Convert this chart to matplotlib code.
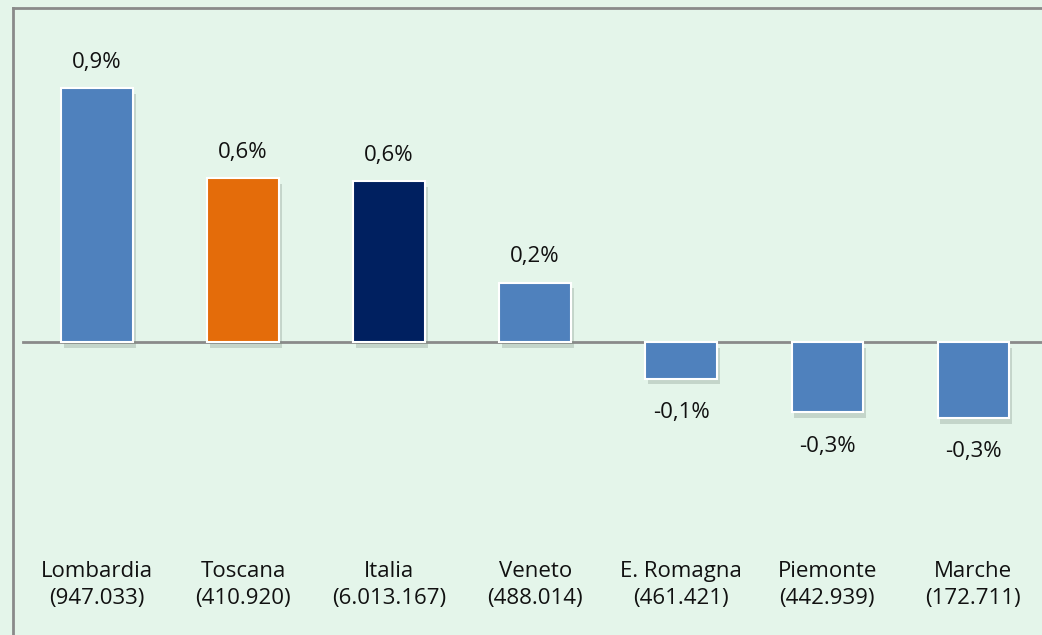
import matplotlib
matplotlib.use('Agg')
import matplotlib.pyplot as plt
import matplotlib.patheffects as pe

# Data
regions = ['Lombardia', 'Toscana', 'Italia', 'Veneto', 'E. Romagna', 'Piemonte', 'Marche']
population = ['947.033', '410.920', '6.013.167', '488.014', '461.421', '442.939', '172.711']
values = [0.90, 0.58, 0.57, 0.21, -0.13, -0.25, -0.27]
labels = ['0,9%', '0,6%', '0,6%', '0,2%', '-0,1%', '-0,3%', '-0,3%']
colors = ['#4f81bd', '#e46c0a', '#002060', '#4f81bd', '#4f81bd', '#4f81bd', '#4f81bd']

matplotlib.rc('font', family=['Open Sans', 'DejaVu Sans'])
bg = '#e4f5ea'

fig = plt.figure(figsize=(10.42, 6.35), dpi=100, facecolor=bg)
ax = fig.add_axes([13 / 1042, 0, 1 - 13 / 1042, 1 - 8 / 635])
ax.set_facecolor(bg)

x = list(range(len(regions)))
bars = ax.bar(x, values, width=0.49, color=colors, edgecolor='white',
              linewidth=1.5, zorder=3)
for b in bars:
    b.set_path_effects([pe.SimplePatchShadow(offset=(2, -4), shadow_rgbFace='#7a8c80', alpha=0.3),
                        pe.Normal()])

# Zero line
ax.axhline(0, xmin=10 / 1029, xmax=1, color='#8a8a8a', linewidth=2, zorder=2)

# Value labels
for xi, v, lab in zip(x, values, labels):
    if v >= 0:
        ax.text(xi, v + 0.092, lab, ha='center', va='center', fontsize=16, color='#111111')
    else:
        ax.text(xi, v - 0.12, lab, ha='center', va='center', fontsize=16, color='#111111')

# Category labels
for xi, reg, pop in zip(x, regions, population):
    ax.text(xi, -0.862, f'{reg}\n({pop})', ha='center', va='center', fontsize=16,
            color='#111111', linespacing=1.35)

ax.set_xlim(-0.575, 6.47)
ax.set_ylim(-1.039, 1.184)
ax.set_xticks([])
ax.set_yticks([])
for side in ['right', 'bottom']:
    ax.spines[side].set_visible(False)
for side in ['left', 'top']:
    ax.spines[side].set_color('#8a8a8a')
    ax.spines[side].set_linewidth(2)

fig.savefig('out.png', dpi=100, facecolor=bg)
